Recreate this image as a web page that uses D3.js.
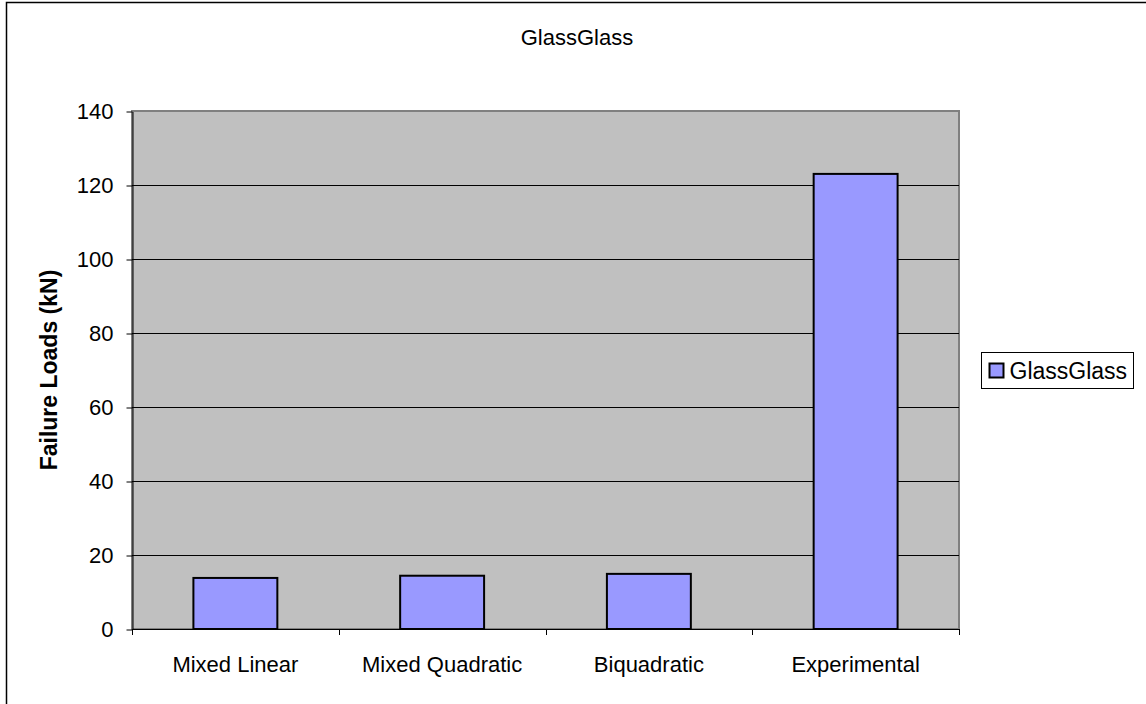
<!DOCTYPE html>
<meta charset="utf-8">
<head>
    <script type="text/javascript" src="https://cdn.jsdelivr.net/npm/d3@7"></script>
    <style>
        body { margin: 0; background: #fff; }
        text { font-family: "Liberation Sans", Arial, sans-serif; fill: #000; }
    </style>
    <title>GlassGlass</title>
</head>
<body>
    <script>
        // chart data
        var categories = ["Mixed Linear", "Mixed Quadratic", "Biquadratic", "Experimental"];
        var loads = [13.8, 14.4, 14.9, 123.0];
        var yTicks = [0, 20, 40, 60, 80, 100, 120, 140];
        var seriesName = "GlassGlass";
        var chartTitle = "GlassGlass";
        var yTitle = "Failure Loads (kN)";

        var width = 1146, height = 704;
        // plot area box
        var plot = {left: 132, top: 111, right: 959, bottom: 629};

        var svg = d3.select("body").append("svg")
            .attr("width", width)
            .attr("height", height);

        // outer chart border (runs off the right/bottom edge)
        svg.append("rect")
            .attr("x", 6.5).attr("y", 2.5)
            .attr("width", 1200).attr("height", 800)
            .attr("fill", "#fff")
            .attr("stroke", "#000")
            .attr("stroke-width", 1.5);

        var x = d3.scaleBand()
            .domain(categories)
            .range([plot.left, plot.right])
            .paddingInner(0.594)
            .paddingOuter(0.297);

        var y = d3.scaleLinear()
            .domain([0, 140])
            .range([plot.bottom, plot.top]);

        // plot area background
        svg.append("rect")
            .attr("x", plot.left).attr("y", plot.top)
            .attr("width", plot.right - plot.left)
            .attr("height", plot.bottom - plot.top)
            .attr("fill", "#c0c0c0")
            .attr("stroke", "#808080")
            .attr("stroke-width", 2);

        // gridlines
        svg.append("g")
            .selectAll("line")
            .data(yTicks.filter(d => d > 0 && d < 140))
            .enter().append("line")
            .attr("x1", plot.left).attr("x2", plot.right)
            .attr("y1", d => Math.round(y(d)) + 0.5)
            .attr("y2", d => Math.round(y(d)) + 0.5)
            .attr("stroke", "#000")
            .attr("stroke-width", 1);

        // bars
        svg.append("g")
            .selectAll("rect")
            .data(categories)
            .enter().append("rect")
            .attr("x", d => x(d))
            .attr("y", (d, i) => y(loads[i]))
            .attr("width", x.bandwidth())
            .attr("height", (d, i) => y(0) - y(loads[i]))
            .attr("fill", "#9999ff")
            .attr("stroke", "#000")
            .attr("stroke-width", 2);

        // y axis
        var yAxis = svg.append("g")
            .attr("transform", "translate(" + (plot.left + 0.5) + ",0.5)")
            .call(d3.axisLeft(y).tickValues(yTicks).tickSize(6).tickPadding(13).tickSizeOuter(0));
        yAxis.select(".domain").attr("stroke", "#000");
        yAxis.selectAll(".tick line").attr("stroke", "#000");
        yAxis.selectAll(".tick text")
            .style("font-size", "22px")
            .attr("fill", "#000");

        // x axis: ticks sit between categories
        var bounds = d3.range(categories.length + 1);
        var step = (plot.right - plot.left) / categories.length;
        var xAxis = svg.append("g");
        xAxis.append("line")
            .attr("x1", plot.left).attr("x2", plot.right)
            .attr("y1", plot.bottom + 0.5).attr("y2", plot.bottom + 0.5)
            .attr("stroke", "#000");
        xAxis.selectAll(".xt")
            .data(bounds)
            .enter().append("line")
            .attr("class", "xt")
            .attr("x1", d => Math.round(plot.left + d * step) + 0.5)
            .attr("x2", d => Math.round(plot.left + d * step) + 0.5)
            .attr("y1", plot.bottom)
            .attr("y2", plot.bottom + 6)
            .attr("stroke", "#000");
        xAxis.selectAll(".xl")
            .data(categories)
            .enter().append("text")
            .attr("class", "xl")
            .attr("x", d => x(d) + x.bandwidth() / 2)
            .attr("y", 672)
            .attr("text-anchor", "middle")
            .style("font-size", "22px")
            .text(d => d);

        // y axis title
        svg.append("text")
            .attr("transform", "translate(57,370) rotate(-90)")
            .attr("text-anchor", "middle")
            .style("font-size", "23px")
            .style("font-weight", "bold")
            .text(yTitle);

        // chart title
        svg.append("text")
            .attr("x", 577).attr("y", 45)
            .attr("text-anchor", "middle")
            .style("font-size", "22px")
            .text(chartTitle);

        // legend
        var legend = svg.append("g").attr("transform", "translate(981.5,352.5)");
        legend.append("rect")
            .attr("width", 152).attr("height", 36)
            .attr("fill", "#fff")
            .attr("stroke", "#000");
        legend.append("rect")
            .attr("x", 8).attr("y", 11)
            .attr("width", 14).attr("height", 14)
            .attr("fill", "#9999ff")
            .attr("stroke", "#000")
            .attr("stroke-width", 2);
        legend.append("text")
            .attr("x", 28).attr("y", 26)
            .style("font-size", "23px")
            .text(seriesName);
    </script>
</body>
</html>
